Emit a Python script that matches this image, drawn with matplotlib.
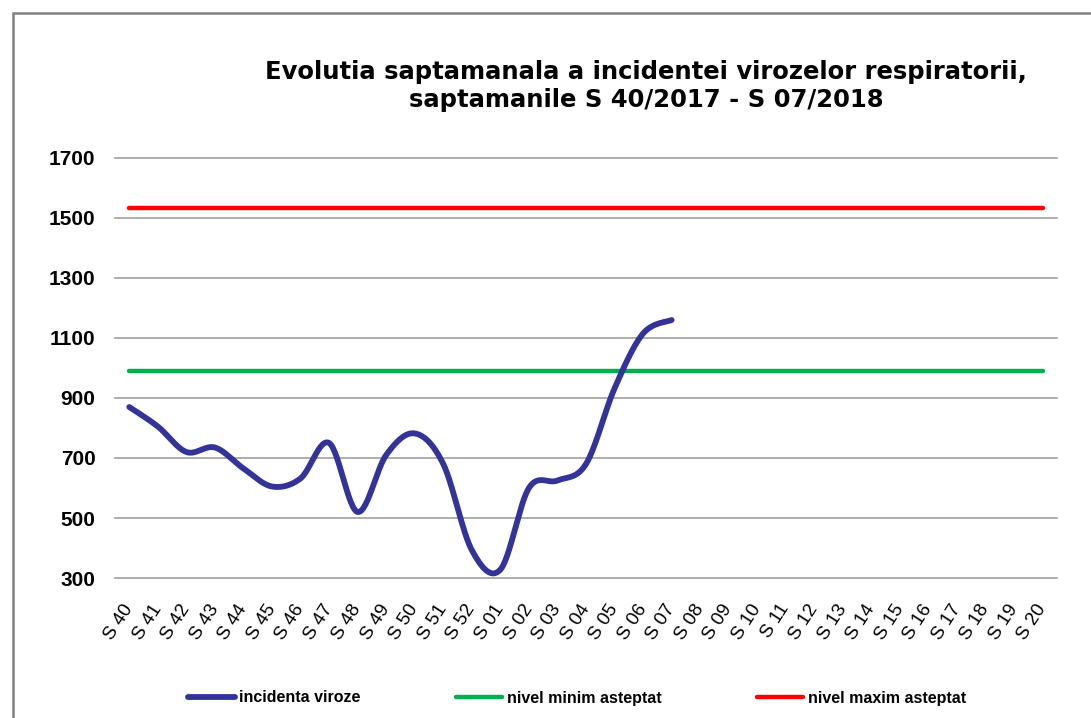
import numpy as np
import matplotlib
matplotlib.use("Agg")
import matplotlib.pyplot as plt
from matplotlib.patches import Rectangle

plt.rcParams['font.family'] = ['Liberation Sans', 'DejaVu Sans']

# Data
weeks = ["S 40", "S 41", "S 42", "S 43", "S 44", "S 45", "S 46", "S 47", "S 48",
         "S 49", "S 50", "S 51", "S 52", "S 01", "S 02", "S 03", "S 04", "S 05",
         "S 06", "S 07", "S 08", "S 09", "S 10", "S 11", "S 12", "S 13", "S 14",
         "S 15", "S 16", "S 17", "S 18", "S 19", "S 20"]
incidence = [870, 805, 720, 735, 665, 605, 632, 750, 520, 710, 782, 680, 393,
             328, 600, 625, 680, 932, 1115, 1160]
min_level = 990
max_level = 1533

yticks = [300, 500, 700, 900, 1100, 1300, 1500, 1700]


def smooth(xs, ys, steps=30):
    # Excel-style smoothed line (Catmull-Rom as cubic Bezier)
    xs = np.asarray(xs, float)
    ys = np.asarray(ys, float)
    px = np.concatenate([[xs[0]], xs, [xs[-1]]])
    py = np.concatenate([[ys[0]], ys, [ys[-1]]])
    outx, outy = [], []
    t = np.linspace(0, 1, steps)
    for i in range(1, len(px) - 2):
        p0 = np.array([px[i], py[i]])
        p3 = np.array([px[i + 1], py[i + 1]])
        c1 = p0 + (np.array([px[i + 1], py[i + 1]]) - np.array([px[i - 1], py[i - 1]])) / 6
        c2 = p3 - (np.array([px[i + 2], py[i + 2]]) - np.array([px[i], py[i]])) / 6
        b = ((1 - t) ** 3)[:, None] * p0 + (3 * (1 - t) ** 2 * t)[:, None] * c1 \
            + (3 * (1 - t) * t ** 2)[:, None] * c2 + (t ** 3)[:, None] * p3
        outx.extend(b[:, 0])
        outy.extend(b[:, 1])
    return np.array(outx), np.array(outy)


fig = plt.figure(figsize=(10.91, 7.18), dpi=100)
ax = fig.add_axes([115 / 1091, 1 - 578 / 718, (1057 - 115) / 1091, (578 - 158) / 718])

x = np.arange(len(weeks))
sx, sy = smooth(x[:len(incidence)], incidence)
ax.plot(sx, sy, color='#333399', lw=4.2, solid_capstyle='round', label='incidenta viroze', zorder=4)
ax.plot(x, [min_level] * len(weeks), color='#00b050', lw=3.2, solid_capstyle='round',
        label='nivel minim asteptat', zorder=3)
ax.plot(x, [max_level] * len(weeks), color='#ff0000', lw=3.2, solid_capstyle='round',
        label='nivel maxim asteptat', zorder=3)

ax.set_xlim(-0.5, len(weeks) - 0.5)
ax.set_ylim(300, 1700)
ax.set_yticks(yticks)
ax.set_yticklabels([str(v) for v in yticks], fontsize=15, fontweight='bold')
ax.yaxis.grid(True, color='#a0a0a0', lw=1.2, clip_on=False)
ax.set_axisbelow(True)
for s in ax.spines.values():
    s.set_visible(False)
ax.tick_params(axis='y', length=0, pad=14)
ax.tick_params(axis='x', length=0, pad=20)
ax.set_xticks(x)
ax.set_xticklabels(weeks, rotation=57, ha='right', va='center', rotation_mode='anchor', fontsize=13.5)

fig.text(0.592, 1 - 86 / 718, "Evolutia saptamanala a incidentei virozelor respiratorii,\nsaptamanile S 40/2017 - S 07/2018",
         ha='center', va='center', fontsize=17.5, fontweight='bold', linespacing=1.22,
         family=['DejaVu Sans'])

fig.legend(loc='center', bbox_to_anchor=(0.529, 1 - 698 / 718), ncol=3, frameon=False,
           handlelength=2.9, columnspacing=5.95, handletextpad=0.3,
           prop={'size': 11.5, 'weight': 'bold'})

fig.add_artist(Rectangle((13 / 1091, -0.05), 1.1, 1.05 - 13 / 718, transform=fig.transFigure,
                         fill=False, edgecolor='#808080', lw=1.8, clip_on=False))

fig.savefig("out.png", dpi=100)
